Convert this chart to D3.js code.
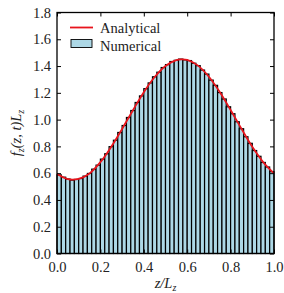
<html lang="en">
<head>
<meta charset="UTF-8">
<title>f_z distribution</title>
<script src="https://cdn.jsdelivr.net/npm/d3@7"></script>
<style>
html,body {margin:0;padding:0;background:#fff;}
svg text {font-family:"Liberation Serif","DejaVu Serif",serif;fill:#222;}
</style>
</head>
<body>
<div id="chart"></div>
<script>
// bar edges (numerical histogram), 50 bins on [0,1]
const binCount = 50;
const barValues = [
	0.587, 0.570, 0.556, 0.548, 0.553, 0.560, 0.578, 0.598, 0.630, 0.660,
	0.705, 0.745, 0.798, 0.846, 0.904, 0.956, 1.016, 1.068, 1.128, 1.177,
	1.231, 1.274, 1.320, 1.354, 1.389, 1.411, 1.434, 1.443, 1.452, 1.446,
	1.441, 1.421, 1.403, 1.370, 1.340, 1.295, 1.256, 1.202, 1.154, 1.096,
	1.044, 0.984, 0.932, 0.872, 0.823, 0.769, 0.726, 0.680, 0.646, 0.611
];
// analytical curve samples
const curveZ = [0, 0.05, 0.10, 0.15, 0.20, 0.25, 0.30, 0.35, 0.40, 0.45, 0.50,
	0.55, 0.575, 0.60, 0.65, 0.70, 0.75, 0.80, 0.85, 0.90, 0.95, 1.0];
const curveF = [0.595, 0.555, 0.557, 0.598, 0.682, 0.797, 0.930, 1.070, 1.205, 1.318, 1.401,
	1.445, 1.450, 1.446, 1.403, 1.320, 1.206, 1.072, 0.932, 0.797, 0.683, 0.598];
const xTicks = [0, 0.2, 0.4, 0.6, 0.8, 1.0];
const yTicks = [0, 0.2, 0.4, 0.6, 0.8, 1.0, 1.2, 1.4, 1.6, 1.8];
const legendItems = ["Analytical", "Numerical"];

const W = 284, H = 293;
const m = {left: 57, right: 10, top: 12.5, bottom: 39.5};
const iw = W - m.left - m.right, ih = H - m.top - m.bottom;

const svg = d3.select('#chart').append('svg')
	.attr('width', W).attr('height', H);
const g = svg.append('g').attr('transform', `translate(${m.left},${m.top})`);

const x = d3.scaleLinear().domain([0, 1]).range([0, iw]);
const y = d3.scaleLinear().domain([0, 1.8]).range([ih, 0]);

// bars
const bw = 1 / binCount;
g.append('g').selectAll('rect')
	.data(barValues)
	.join('rect')
	.attr('x', (d, i) => x(i * bw))
	.attr('y', d => y(d))
	.attr('width', x(bw) - x(0))
	.attr('height', d => y(0) - y(d))
	.attr('fill', '#add8e6')
	.attr('stroke', '#000')
	.attr('stroke-width', 1.2);

// analytical line
const line = d3.line()
	.x((d, i) => x(curveZ[i]))
	.y(d => y(d))
	.curve(d3.curveCatmullRom);
g.append('path')
	.datum(curveF)
	.attr('d', line)
	.attr('fill', 'none')
	.attr('stroke', '#e8141c')
	.attr('stroke-width', 1.8);

// axes, ticks inward on all four sides
const fmt = d3.format('.1f');
const axB = g.append('g').attr('transform', `translate(0,${ih})`)
	.call(d3.axisBottom(x).tickValues(xTicks).tickFormat(fmt).tickSizeInner(-4).tickSizeOuter(0).tickPadding(8));
const axL = g.append('g')
	.call(d3.axisLeft(y).tickValues(yTicks).tickFormat(fmt).tickSizeInner(-4).tickSizeOuter(0).tickPadding(6));
const axT = g.append('g')
	.call(d3.axisTop(x).tickValues(xTicks).tickFormat('').tickSizeInner(-4).tickSizeOuter(0));
const axR = g.append('g').attr('transform', `translate(${iw},0)`)
	.call(d3.axisRight(y).tickValues(yTicks).tickFormat('').tickSizeInner(-4).tickSizeOuter(0));
[axB, axL, axT, axR].forEach(a => {
	a.select('.domain').remove();
	a.selectAll('line').attr('stroke', '#000').attr('stroke-width', 1);
	a.selectAll('text').style('font-size', '14.5px').attr('fill', '#222');
});

g.append('rect')
	.attr('width', iw).attr('height', ih)
	.attr('fill', 'none').attr('stroke', '#000').attr('stroke-width', 1.3);

// legend
const lg = g.append('g').attr('transform', 'translate(13,15)');
lg.append('line').attr('x1', 0).attr('x2', 23).attr('y1', 0).attr('y2', 0)
	.attr('stroke', '#e8141c').attr('stroke-width', 1.8);
lg.append('rect').attr('x', 1).attr('y', 12).attr('width', 21).attr('height', 8)
	.attr('fill', '#add8e6').attr('stroke', '#000').attr('stroke-width', 0.9);
lg.selectAll('text').data(legendItems).join('text')
	.attr('x', 30).attr('y', (d, i) => 5 + i * 18)
	.style('font-size', '14.5px')
	.text(d => d);

// x label
const xl = svg.append('text')
	.attr('x', m.left + iw / 2).attr('y', 288)
	.attr('text-anchor', 'middle')
	.style('font-size', '14.5px').style('font-style', 'italic');
xl.append('tspan').text('z/L');
xl.append('tspan').attr('dy', 2.5).style('font-size', '10px').text('z');

// y label
const yl = svg.append('text')
	.attr('transform', `translate(21,${m.top + ih / 2}) rotate(-90)`)
	.attr('text-anchor', 'middle')
	.style('font-size', '14.5px').style('font-style', 'italic');
yl.append('tspan').text('f');
yl.append('tspan').attr('dy', 3).style('font-size', '10px').text('z');
yl.append('tspan').attr('dy', -3).text('(z, t)L');
yl.append('tspan').attr('dy', 3).style('font-size', '10px').text('z');
</script>
</body>
</html>
